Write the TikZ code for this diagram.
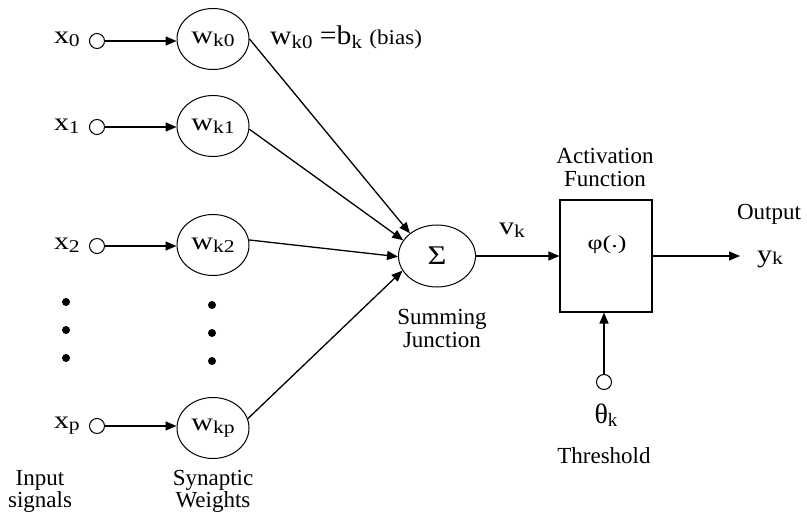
\documentclass[tikz,border=0pt]{standalone}
\usepackage{fontspec}
\setmainfont{Liberation Serif}
\usetikzlibrary{shapes.geometric,arrows.meta}
\newcommand\V[1]{\scalebox{1.2}[1]{#1}}
\newcommand\sbk[1]{\raisebox{-0.25ex}{\fontsize{18}{18}\selectfont #1}}
\begin{document}
\begin{tikzpicture}[x=1pt,y=-1pt,
 inp/.style={circle,draw,line width=1pt,minimum size=15pt,inner sep=0pt},
 wt/.style={ellipse,draw,line width=1pt,minimum width=72pt,minimum height=61pt,inner sep=0pt,font=\fontsize{25}{28}\selectfont},
 var/.style={inner sep=0pt,font=\fontsize{25}{28}\selectfont},
 lab/.style={inner sep=0pt,font=\fontsize{23}{26}\selectfont},
 arr/.style={line width=1.3pt,-{Triangle[length=11pt,width=9pt]}},
 dot/.style={circle,fill,inner sep=0pt,minimum size=8pt}
]
\useasboundingbox (0,0) rectangle (807,516);

% inputs
\node[inp] (c0) at (97,41) {};
\node[inp] (c1) at (97,127) {};
\node[inp] (c2) at (97,246) {};
\node[inp] (cp) at (97,426) {};
\node[var,anchor=base east] (x0) at (80,44) {\V{x\sbk{0}}};
\node[var,anchor=base east] (x1) at (80,131) {\V{x\sbk{1}}};
\node[var,anchor=base east] (x2) at (80,250) {\V{x\sbk{2}}};
\node[var,anchor=base east] (xp) at (80,428) {\V{x\sbk{p}}};

% weights
\node[wt] (w0) at (213,39) {\V{w\sbk{k0}}};
\node[wt] (w1) at (213,126) {\V{w\sbk{k1}}};
\node[wt] (w2) at (213,245) {\V{w\sbk{k2}}};
\node[wt] (wp) at (213,428) {\V{w\sbk{kp}}};

\draw[arr] (c0) -- (c0 -| w0.west);
\draw[arr] (c1) -- (c1 -| w1.west);
\draw[arr] (c2) -- (c2 -| w2.west);
\draw[arr] (cp) -- (cp -| wp.west);

% dots
\node[dot] (a1) at (66,302) {};
\node[dot] (a2) at (66,330) {};
\node[dot] (a3) at (66,358) {};
\node[dot] (b1) at (212,305) {};
\node[dot] (b2) at (212,333) {};
\node[dot] (b3) at (212,361) {};

% bias label
\node[inner sep=0pt,anchor=base west,font=\fontsize{27}{30}\selectfont] (bias) at (270,45)
 {\scalebox{1.1}[1]{w{\raisebox{-0.25ex}{\fontsize{19}{19}\selectfont k0}} =b{\raisebox{-0.25ex}{\fontsize{19}{19}\selectfont k}} {\fontsize{21}{21}\selectfont(bias)}}};

% summing junction
\node[ellipse,draw,line width=1pt,minimum width=77pt,minimum height=62pt,inner sep=0pt,font=\fontsize{27}{30}\selectfont] (sum) at (437,256) {\V{Σ}};
\draw[arr] (w0.east) -- (sum.140);
\draw[arr] (w1.-5) -- (sum.155);
\draw[arr] (w2.8) -- (sum.181);
\draw[arr] (wp.15) -- (sum.203);

\node[lab,anchor=base] (sj1) at (442,324) {Summing};
\node[lab,anchor=base] (sj2) at (442,347) {Junction};

% activation box
\node[draw,line width=1.1pt,minimum width=92pt,minimum height=112pt,inner sep=0pt] (box) at (606,256) {};
\node[var,font=\fontsize{20}{22}\selectfont] (phi) at (607,245) {\scalebox{1.3}[1]{φ(\raisebox{0.25ex}{.})}};
\node[lab,anchor=base] (af1) at (605,164) {Activation};
\node[lab,anchor=base] (af2) at (605,187) {Function};

\draw[arr] (sum.east) -- (box.west);
\node[var,anchor=base] (vk) at (512,235) {\V{v\sbk{k}}};

% output
\coordinate (out) at (740,256);
\draw[arr] (box.east) -- (out);
\node[lab,anchor=base] (outl) at (769,220) {Output};
\node[var,anchor=base] (yk) at (770,262) {\V{y\sbk{k}}};

% threshold
\node[inp] (th) at (604,382) {};
\draw[arr] (th.north) -- (th |- box.south);
\node[inner sep=0pt,anchor=base,font=\fontsize{28}{30}\selectfont] (thk) at (606,423) {θ\raisebox{-0.25ex}{\fontsize{19}{19}\selectfont k}};
\node[lab,anchor=base] (thl) at (604,463) {Threshold};

% bottom labels
\node[lab,anchor=base] (is1) at (40,485) {Input};
\node[lab,anchor=base] (is2) at (40,507) {signals};
\node[lab,anchor=base] (sw1) at (213,485) {Synaptic};
\node[lab,anchor=base] (sw2) at (213,507) {Weights};
\end{tikzpicture}
\end{document}
